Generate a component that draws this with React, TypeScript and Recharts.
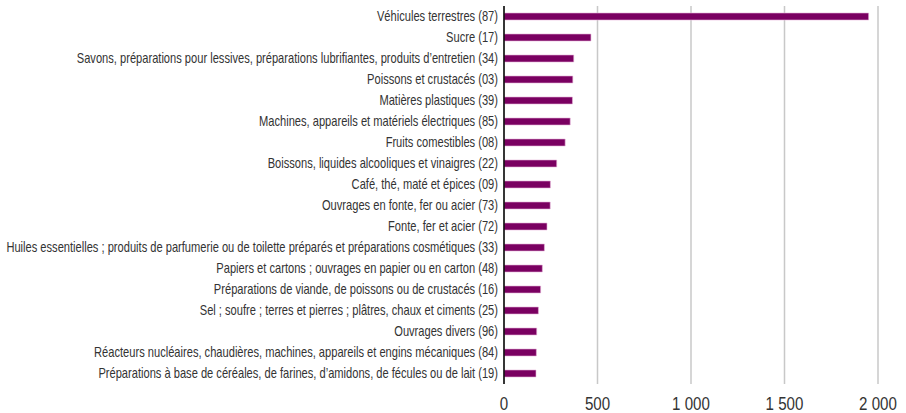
import React from "react";
import { BarChart, Bar, XAxis, YAxis, CartesianGrid } from "recharts";

const categories = [
  "Véhicules terrestres (87)",
  "Sucre (17)",
  "Savons, préparations pour lessives, préparations lubrifiantes, produits d’entretien (34)",
  "Poissons et crustacés (03)",
  "Matières plastiques (39)",
  "Machines, appareils et matériels électriques (85)",
  "Fruits comestibles (08)",
  "Boissons, liquides alcooliques et vinaigres (22)",
  "Café, thé, maté et épices (09)",
  "Ouvrages en fonte, fer ou acier (73)",
  "Fonte, fer et acier (72)",
  "Huiles essentielles ; produits de parfumerie ou de toilette préparés et préparations cosmétiques (33)",
  "Papiers et cartons ; ouvrages en papier ou en carton (48)",
  "Préparations de viande, de poissons ou de crustacés (16)",
  "Sel ; soufre ; terres et pierres ; plâtres, chaux et ciments (25)",
  "Ouvrages divers (96)",
  "Réacteurs nucléaires, chaudières, machines, appareils et engins mécaniques (84)",
  "Préparations à base de céréales, de farines, d’amidons, de fécules ou de lait (19)",
];

const values = [1950, 465, 373, 368, 366, 354, 327, 282, 248, 247, 230, 216, 205, 196, 184, 175, 173, 171];

const xTicks = [0, 500, 1000, 1500, 2000];

const data = categories.map((name, i) => ({ name, value: values[i] }));

const fmt = (v: number) => String(v).replace(/\B(?=(\d{3})+(?!\d))/g, " ");

const FONT = "'Liberation Sans', Arial, sans-serif";

const CatTick = (props: any) => {
  const { x, y, payload } = props;
  return (
    <g transform={`translate(${x},${y}) scale(0.795,1)`}>
      <text x={0} y={0} dy="0.3em" textAnchor="end" fill="#333" fontSize={14} fontFamily={FONT}>
        {payload.value}
      </text>
    </g>
  );
};

const NumTick = (props: any) => {
  const { x, y, payload } = props;
  return (
    <g transform={`translate(${x},${y}) scale(0.84,1)`}>
      <text x={0} y={14} textAnchor="middle" fill="#333" fontSize={18} fontFamily={FONT}>
        {fmt(payload.value)}
      </text>
    </g>
  );
};

export default function App() {
  return (
    <div style={{ position: "absolute", left: 0, top: 0, background: "#fff" }}>
      <BarChart
        width={906}
        height={413}
        data={data}
        layout="vertical"
        margin={{ top: 6, right: 28, left: 0, bottom: 5 }}
      >
        <CartesianGrid horizontal={false} vertical={true} stroke="#c8c8c8" strokeWidth={1.5} />
        <XAxis
          type="number"
          domain={[0, 2000]}
          ticks={xTicks}
          axisLine={false}
          tickLine={false}
          height={24}
          tickSize={6}
          tickMargin={6}
          tick={<NumTick />}
        />
        <YAxis
          type="category"
          dataKey="name"
          width={504}
          interval={0}
          tickLine={false}
          tickSize={6}
          tickMargin={0}
          axisLine={{ stroke: "#000", strokeWidth: 1.5 }}
          tick={<CatTick />}
        />
        <Bar dataKey="value" fill="#7a0061" stroke="#e6b3d9" strokeWidth={0.6} barSize={7} isAnimationActive={false} />
      </BarChart>
    </div>
  );
}
